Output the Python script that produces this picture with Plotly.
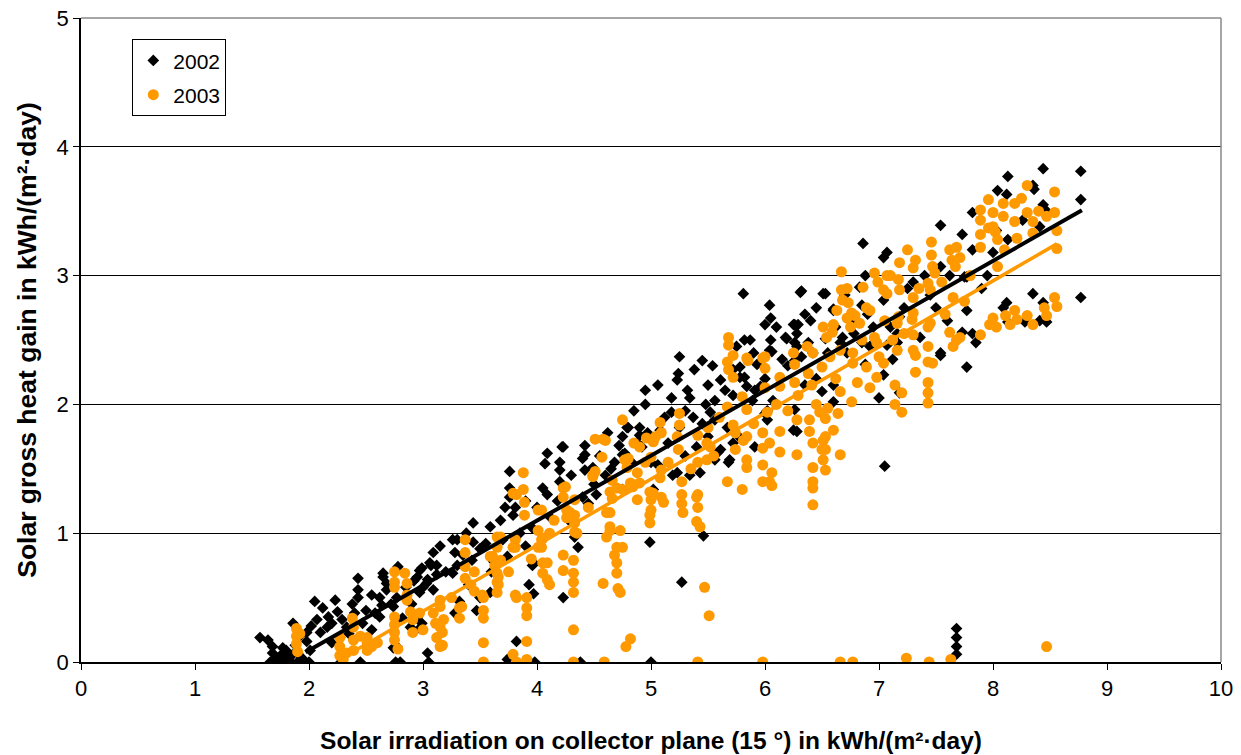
import plotly.graph_objects as go

# ---- data ----
pts2002 = [
    (1.57,0.19),(1.64,0.17),(1.66,0.0),(1.68,0.12),(1.68,0.07),(1.7,0.02),(1.72,0.0),(1.75,0.05),(1.77,0.11),(1.77,0.0),
    (1.8,0.09),(1.82,0.03),(1.84,0.0),(1.86,0.3),(1.86,0.06),(1.88,0.13),(1.9,0.07),(1.9,0.0),(1.92,0.2),(1.94,0.03),
    (1.96,0.0),(1.98,0.23),(1.98,0.16),(2.01,0.09),(2.0,0.0),(2.02,0.28),
    (2.05,0.47),(2.07,0.33),(2.1,0.23),(2.12,0.42),(2.16,0.27),(2.17,0.35),(2.2,0.15),(2.2,0.3),(2.23,0.48),(2.25,0.39),(2.27,0.19),
    (2.28,0.0),(2.29,0.33),(2.33,0.27),(2.35,0.22),(2.38,0.45),(2.4,0.38),(2.43,0.65),(2.43,0.56),(2.43,0.5),(2.45,0.0),(2.47,0.3),(2.5,0.4),
    (2.55,0.52),(2.55,0.25),(2.58,0.38),(2.62,0.5),(2.62,0.35),(2.64,0.44),(2.65,0.69),(2.65,0.66),(2.68,0.61),(2.68,0.56),(2.72,0.45),
    (2.74,0.43),(2.74,0.11),(2.76,0.0),(2.77,0.5),(2.77,0.33),(2.77,0.12),(2.78,0.74),(2.8,0.0),(2.82,0.34),(2.85,0.58),
    (2.89,0.27),(2.9,0.45),(2.92,0.63),(2.95,0.66),(2.95,0.35),(2.97,0.71),(2.97,0.54),(2.97,0.26),(2.99,0.73),(2.99,0.3),(3.0,0.58),
    (3.03,0.61),(3.04,0.64),(3.04,0.07),(3.05,0.0),(3.06,0.77),(3.07,0.75),(3.09,0.85),(3.09,0.56),(3.12,0.68),(3.12,0.75),
    (3.15,0.9),(3.2,0.7),(3.26,0.95),(3.26,0.69),(3.28,0.85),(3.28,0.38),(3.3,0.95),(3.3,0.75),(3.32,0.47),(3.35,0.83),
    (3.38,1.0),(3.4,0.6),(3.43,0.79),(3.44,1.08),(3.44,0.93),(3.47,0.4),(3.5,0.5),(3.5,0.88),
    (3.55,0.92),(3.59,1.05),(3.59,0.54),(3.6,0.7),(3.62,0.78),(3.68,1.1),(3.7,0.95),(3.72,1.2),(3.74,0.82),(3.74,0.02),(3.76,1.48),(3.76,1.35),
    (3.76,1.28),(3.79,1.14),(3.81,1.2),(3.82,0.16),(3.85,1.0),(3.9,1.25),(3.9,0.9),(3.93,0.6),(3.96,1.04),(3.96,0.75),(3.97,0.77),
    (3.97,0.53),(3.98,0.0),(4.0,1.2),
    (4.05,1.35),(4.07,1.54),(4.09,1.62),(4.09,1.3),(4.12,1.12),(4.18,1.25),(4.2,1.55),(4.2,1.49),(4.2,1.4),(4.22,1.67),
    (4.23,1.67),(4.23,0.5),(4.28,1.1),(4.3,1.45),(4.33,0.97),(4.36,0.89),(4.38,0.0),(4.4,1.58),(4.4,1.28),(4.42,1.68),(4.42,1.61),
    (4.42,1.49),(4.45,1.23),(4.49,1.51),(4.5,1.38),(4.52,1.3),
    (4.55,1.6),(4.6,1.45),(4.62,1.78),(4.65,1.5),(4.68,1.55),(4.72,1.68),(4.75,1.75),(4.75,1.61),(4.75,1.34),(4.77,1.62),(4.79,1.82),
    (4.8,1.82),(4.83,1.55),(4.85,1.95),(4.88,1.7),(4.9,1.82),(4.9,1.76),(4.92,1.67),(4.95,2.11),(4.95,2.0),(4.97,1.78),
    (4.99,0.93),(5.0,1.55),(5.0,0.0),
    (5.02,1.72),(5.02,1.34),(5.06,2.15),(5.06,1.53),(5.08,1.8),(5.12,1.9),(5.15,1.7),(5.18,2.05),(5.18,1.94),(5.19,1.45),(5.23,2.19),
    (5.23,1.47),(5.24,2.24),(5.25,2.37),(5.25,1.82),(5.27,0.62),(5.3,1.6),(5.3,1.95),(5.32,2.11),(5.34,2.05),(5.34,1.45),(5.37,1.9),
    (5.38,2.27),(5.4,1.67),(5.43,1.47),(5.45,2.34),(5.45,1.85),(5.46,0.98),(5.48,2.0),(5.5,1.75),(5.5,2.15),
    (5.52,1.94),(5.54,2.3),(5.56,2.03),(5.56,1.88),(5.56,1.57),(5.59,1.63),(5.61,2.19),(5.61,1.65),(5.65,2.11),(5.67,1.82),
    (5.68,1.55),(5.69,1.57),(5.72,2.27),(5.72,2.07),(5.72,1.7),(5.75,2.45),(5.77,1.75),(5.78,2.29),(5.78,2.21),(5.81,2.86),(5.82,2.21),
    (5.82,2.5),(5.84,2.14),(5.87,2.5),(5.89,2.03),(5.9,2.4),(5.91,2.11),(5.91,1.67),(5.93,2.31),(5.96,2.14),(6.0,2.62),(6.0,1.93),(6.0,2.2),
    (6.02,1.95),(6.02,1.88),(6.04,2.77),(6.04,2.42),(6.05,2.67),(6.05,2.5),(6.06,2.41),(6.07,2.03),(6.1,2.6),(6.15,2.35),(6.18,2.52),(6.19,2.51),
    (6.2,2.3),(6.25,2.62),(6.25,1.8),(6.26,2.62),(6.26,2.48),(6.26,2.34),(6.26,1.96),(6.28,2.55),(6.28,2.45),(6.28,1.79),
    (6.29,2.62),(6.31,2.87),(6.32,2.88),(6.32,2.37),(6.35,2.7),(6.35,2.15),(6.38,2.48),(6.4,2.65),(6.42,2.4),(6.45,2.2),(6.45,2.75),
    (6.5,2.1),(6.51,2.86),(6.53,2.86),(6.53,2.51),(6.55,2.4),
    (6.6,2.74),(6.6,2.73),(6.6,2.15),(6.6,2.02),(6.62,2.6),(6.66,2.48),(6.68,2.52),(6.7,2.85),(6.72,2.4),(6.75,2.65),(6.78,2.55),
    (6.83,2.91),(6.85,2.77),(6.85,2.48),(6.86,3.25),(6.88,3.0),(6.88,2.31),(6.9,2.7),(6.92,2.45),(6.95,2.6),(7.0,2.05),
    (7.04,3.14),(7.04,2.81),(7.04,2.23),(7.05,1.52),(7.07,3.18),(7.07,2.46),(7.1,2.6),(7.12,2.35),(7.16,2.55),(7.16,2.48),(7.18,2.68),
    (7.18,2.09),(7.22,2.75),(7.25,2.9),(7.3,2.95),(7.36,2.52),(7.4,3.0),(7.45,2.85),(7.5,2.75),
    (7.54,3.39),(7.54,3.07),(7.54,2.4),(7.54,2.38),(7.6,2.65),(7.62,3.0),(7.68,0.26),(7.68,0.19),(7.68,0.12),(7.68,0.06),(7.73,3.32),(7.73,2.56),
    (7.75,2.99),(7.77,2.99),(7.77,2.73),(7.77,2.29),(7.82,3.49),(7.82,3.2),(7.82,2.55),(7.85,2.48),(7.9,2.9),(7.95,3.0),(8.0,3.18),
    (8.03,3.35),(8.04,3.66),(8.09,2.75),(8.12,3.63),(8.12,2.79),(8.13,3.77),(8.13,3.28),(8.13,2.64),(8.26,3.43),(8.28,2.64),
    (8.35,3.7),(8.35,2.86),(8.36,3.67),(8.41,3.38),(8.41,2.65),(8.44,3.83),(8.44,3.55),(8.44,2.79),(8.46,3.51),(8.47,2.64),
    (8.77,3.81),(8.77,3.59),(8.77,2.83),
]

pts2003 = [
    (1.89,0.26),(1.89,0.2),(1.89,0.14),(1.9,0.08),(1.92,0.22),(2.27,0.19),(2.27,0.12),(2.27,0.05),(2.3,0.02),(2.33,0.07),
    (2.38,0.34),(2.39,0.27),(2.39,0.17),(2.39,0.09),(2.45,0.2),(2.51,0.19),(2.51,0.15),(2.51,0.09),(2.55,0.12),(2.6,0.15),
    (2.75,0.7),(2.75,0.62),(2.75,0.58),(2.75,0.35),(2.75,0.29),(2.75,0.23),(2.75,0.17),(2.78,0.1),(2.84,0.69),(2.86,0.61),
    (2.86,0.52),(2.86,0.48),(2.89,0.39),(2.91,0.33),(2.91,0.23),(2.97,0.38),(3.0,0.25),
    (3.09,0.38),(3.11,0.3),(3.12,0.19),(3.15,0.12),(3.15,0.48),(3.15,0.43),(3.18,0.33),(3.17,0.23),(3.17,0.13),(3.15,0.27),
    (3.25,0.5),(3.32,0.42),(3.32,0.34),(3.34,0.43),(3.37,0.95),(3.37,0.85),(3.37,0.74),(3.37,0.65),(3.42,0.6),(3.45,0.55),(3.45,0.7),(3.52,0.52),
    (3.53,0.5),(3.53,0.4),(3.53,0.34),(3.53,0.15),(3.53,0.0),
    (3.59,0.82),(3.61,0.82),(3.63,0.75),(3.65,0.97),(3.65,0.89),(3.65,0.69),(3.65,0.62),(3.65,0.54),(3.66,0.66),(3.66,0.6),
    (3.68,0.97),(3.68,0.79),(3.75,0.7),(3.79,1.31),(3.79,0.89),(3.79,0.06),(3.81,0.95),(3.81,0.89),(3.81,0.52),(3.82,1.3),(3.82,0.5),
    (3.82,0.0),(3.88,1.47),(3.88,1.34),(3.89,1.24),(3.89,1.14),(3.91,0.5),(3.91,0.42),(3.91,0.36),(3.91,0.16),(3.91,0.02),(3.95,0.8),
    (4.01,1.18),(4.01,1.02),(4.01,0.89),(4.04,1.18),(4.04,0.95),(4.04,0.89),(4.05,0.96),(4.05,0.77),(4.05,0.69),(4.09,0.77),
    (4.09,0.64),(4.11,1.0),(4.11,0.6),(4.15,1.1),(4.23,1.35),(4.23,1.28),(4.23,0.83),(4.23,0.71),(4.25,1.36),(4.26,1.18),(4.26,1.12),
    (4.29,1.16),(4.32,0.79),(4.32,0.69),(4.32,0.62),(4.32,0.54),(4.32,0.25),(4.32,0.0),(4.33,1.26),(4.33,1.14),(4.33,1.08),
    (4.33,1.01),(4.35,1.0),(4.45,1.2),(4.49,1.44),(4.49,1.45),
    (4.51,1.73),(4.51,1.48),(4.57,1.59),(4.58,1.73),(4.58,0.61),(4.59,0.0),(4.6,1.72),(4.61,1.16),(4.61,0.97),(4.64,1.32),
    (4.64,1.16),(4.64,1.05),(4.64,1.02),(4.66,1.41),(4.66,1.27),(4.68,0.83),(4.7,1.35),(4.7,0.89),(4.7,0.77),(4.7,0.69),
    (4.71,0.57),(4.73,1.02),(4.73,0.54),(4.75,1.88),(4.75,1.34),(4.75,0.89),(4.77,1.57),(4.78,0.12),(4.79,1.51),(4.8,1.58),
    (4.82,1.39),(4.82,0.18),(4.84,1.36),(4.85,1.7),(4.88,1.47),(4.88,1.26),(4.9,1.67),(4.9,1.39),(4.95,1.55),(4.96,1.74),(4.99,1.32),(4.99,1.14),
    (4.99,1.08),
    (5.0,1.59),(5.0,1.26),(5.0,1.18),(5.02,1.71),(5.02,1.31),(5.04,1.75),(5.08,1.86),(5.08,1.43),(5.09,1.78),(5.09,1.49),
    (5.09,1.28),(5.11,1.24),(5.15,1.55),(5.23,1.75),(5.24,1.65),(5.25,1.93),(5.25,1.84),(5.27,1.4),(5.27,1.3),(5.27,1.23),(5.28,1.16),
    (5.35,1.5),(5.4,1.28),(5.4,1.09),(5.41,1.76),(5.41,1.55),(5.41,1.3),(5.41,1.2),(5.41,0.0),(5.43,1.05),(5.47,0.58),(5.49,1.7),
    (5.49,1.57),(5.5,1.82),(5.51,0.36),
    (5.52,1.67),(5.55,1.6),(5.6,1.9),(5.67,2.33),(5.67,1.98),(5.67,1.4),(5.68,2.52),(5.68,2.46),(5.68,2.27),(5.72,2.38),(5.72,2.21),(5.72,1.84),
    (5.74,1.78),(5.74,1.65),(5.8,2.06),(5.8,1.34),(5.81,1.72),(5.84,2.36),(5.84,1.96),(5.84,1.75),(5.84,1.57),(5.84,1.51),
    (5.85,2.34),(5.9,1.85),(5.98,2.36),(5.98,1.78),(5.98,1.66),(5.98,1.53),(5.98,1.4),(5.98,0.0),(6.0,2.28),(6.0,2.13),(6.0,2.37),
    (6.02,1.94),(6.04,1.7),(6.04,1.4),(6.06,1.47),(6.06,1.37),(6.1,2.0),(6.13,2.21),(6.13,2.14),(6.13,1.79),(6.13,1.63),(6.2,1.95),(6.25,2.4),
    (6.26,2.31),(6.26,2.17),(6.28,1.88),(6.28,1.61),(6.29,2.07),(6.37,2.45),(6.38,2.24),(6.39,1.88),(6.39,1.79),(6.41,2.15),
    (6.42,2.4),(6.42,1.7),(6.42,1.51),(6.42,1.4),(6.42,1.35),(6.42,1.22),(6.45,2.0),(6.48,1.94),(6.5,2.29),(6.5,1.65),
    (6.51,2.6),(6.51,1.72),(6.51,1.57),(6.53,1.89),(6.53,1.75),(6.53,1.65),(6.53,1.49),(6.54,2.52),(6.55,1.97),(6.57,2.37),
    (6.59,2.56),(6.6,2.62),(6.6,1.8),(6.62,2.2),(6.63,2.73),(6.64,1.93),(6.66,2.42),(6.66,2.1),(6.66,1.61),(6.66,0.0),(6.67,3.03),
    (6.67,2.89),(6.68,2.81),(6.72,2.67),(6.72,2.9),(6.73,2.79),(6.75,2.6),(6.76,2.71),(6.76,2.02),(6.77,2.4),(6.77,2.32),
    (6.77,0.0),(6.79,2.69),(6.81,2.17),(6.83,2.63),(6.85,2.5),(6.86,2.91),(6.89,2.75),(6.89,2.29),(6.92,2.73),(6.92,2.13),(6.96,3.02),
    (6.96,2.52),(6.98,2.48),(6.98,2.21),(6.99,2.95),
    (7.0,2.37),(7.04,2.89),(7.04,2.32),(7.05,2.65),(7.07,3.0),(7.07,2.86),(7.1,3.0),(7.12,2.5),(7.14,2.15),(7.14,2.0),(7.16,2.63),
    (7.16,2.42),(7.17,2.97),(7.17,2.68),(7.18,3.1),(7.18,2.89),(7.2,2.09),(7.2,1.94),(7.22,2.55),(7.24,0.03),(7.25,3.2),(7.29,2.66),
    (7.3,3.06),(7.3,2.83),(7.3,2.71),(7.3,2.54),(7.3,2.42),(7.32,3.12),(7.32,2.38),(7.32,2.25),(7.35,2.9),(7.43,2.94),(7.43,2.6),
    (7.43,2.45),(7.43,2.33),(7.43,2.17),(7.43,2.09),(7.43,2.01),(7.44,0.0),(7.45,2.89),(7.45,2.63),(7.46,3.26),(7.46,3.16),
    (7.47,3.07),(7.47,2.32),(7.49,3.02),(7.55,2.95),(7.58,2.7),
    (7.62,3.2),(7.62,2.56),(7.63,0.02),(7.64,3.12),(7.65,2.83),(7.65,2.45),(7.67,3.07),(7.68,3.22),(7.68,2.5),(7.71,3.14),
    (7.71,2.52),(7.75,2.8),(7.8,3.0),(7.89,3.51),(7.89,3.43),(7.89,3.32),(7.89,3.22),(7.89,2.54),(7.96,3.59),(7.96,3.37),(7.97,2.62),(8.0,3.49),
    (8.0,3.38),(8.0,2.67),
    (8.02,3.34),(8.03,2.6),(8.04,3.28),(8.04,3.07),(8.09,3.56),(8.09,3.46),(8.1,3.2),(8.11,2.69),(8.15,2.62),(8.19,3.56),(8.19,3.42),(8.19,2.73),
    (8.21,3.29),(8.21,2.66),(8.25,3.6),(8.3,3.7),(8.3,3.49),(8.3,2.69),(8.35,3.42),(8.35,3.33),(8.35,2.62),(8.4,3.5),(8.45,2.75),(8.47,3.46),(8.47,2.69),
    (8.47,0.12),(8.54,3.65),(8.54,3.49),(8.54,2.83),(8.56,3.35),(8.56,3.21),(8.56,2.76),
]

# linear trend lines (slope, intercept, x-extent)
trend2002_slope, trend2002_intercept, trend2002_x = 0.504, -0.918, [1.97, 8.78]
trend2003_slope, trend2003_intercept, trend2003_x = 0.513, -1.145, [2.27, 8.56]

series_names = ["2002", "2003"]
x_ticks = [0, 1, 2, 3, 4, 5, 6, 7, 8, 9, 10]
y_ticks = [0, 1, 2, 3, 4, 5]

x02, y02 = zip(*pts2002)
x03, y03 = zip(*pts2003)
ty02 = [trend2002_slope * v + trend2002_intercept for v in trend2002_x]
ty03 = [trend2003_slope * v + trend2003_intercept for v in trend2003_x]

ORANGE = "#FF9900"
FONT = "Liberation Sans, Arial, sans-serif"

fig = go.Figure()
fig.add_trace(go.Scatter(x=x02, y=y02, mode="markers", name=series_names[0], legendgroup="a",
                         marker=dict(symbol="diamond", size=9, color="black", line=dict(width=0))))
fig.add_trace(go.Scatter(x=x03, y=y03, mode="markers", name=series_names[1], legendgroup="b",
                         marker=dict(symbol="circle", size=11, color=ORANGE, line=dict(width=0))))
fig.add_trace(go.Scatter(x=trend2002_x, y=ty02, mode="lines", showlegend=False,
                         line=dict(color="black", width=4), hoverinfo="skip"))
fig.add_trace(go.Scatter(x=trend2003_x, y=ty03, mode="lines", showlegend=False,
                         line=dict(color=ORANGE, width=3.5), hoverinfo="skip"))

fig.update_layout(
    width=1241, height=755,
    margin=dict(l=81, r=20, t=18, b=93, autoexpand=False),
    paper_bgcolor="white", plot_bgcolor="white",
    font=dict(family=FONT, size=22, color="black"),
    showlegend=True,
    legend=dict(x=0.045, y=0.967, xanchor="left", yanchor="top",
                bgcolor="white", bordercolor="black", borderwidth=1,
                font=dict(family=FONT, size=21), itemwidth=30,
                traceorder="grouped", tracegroupgap=4),
    shapes=[
        dict(type="line", xref="paper", yref="paper", x0=0, x1=1, y0=1, y1=1,
             line=dict(color="#888888", width=1.5), layer="above"),
        dict(type="line", xref="paper", yref="paper", x0=1, x1=1, y0=0, y1=1,
             line=dict(color="#888888", width=1.5), layer="above"),
    ],
)
fig.update_xaxes(
    range=[0, 10], tickvals=x_ticks, ticktext=[str(v) for v in x_ticks],
    showgrid=False, zeroline=False,
    showline=True, linecolor="black", linewidth=1.5,
    ticks="outside", ticklen=6, tickcolor="black",
    tickfont=dict(family=FONT, size=22),
    title=dict(text="<b>Solar irradiation on collector plane (15 °) in kWh/(m²·day)</b>",
               font=dict(family=FONT, size=24.5), standoff=32),
)
fig.update_yaxes(
    range=[0, 5], tickvals=y_ticks, ticktext=[str(v) for v in y_ticks],
    showgrid=True, gridcolor="black", gridwidth=1, zeroline=False,
    showline=True, linecolor="black", linewidth=1.5,
    ticks="outside", ticklen=6, tickcolor="black",
    tickfont=dict(family=FONT, size=22),
    title=dict(text="<b>Solar gross heat gain in kWh/(m²·day)</b>",
               font=dict(family=FONT, size=26.5), standoff=12),
)

fig.write_html("out.html", config={"displayModeBar": False},
               post_script="document.body.style.margin='0';document.body.style.padding='0';")
